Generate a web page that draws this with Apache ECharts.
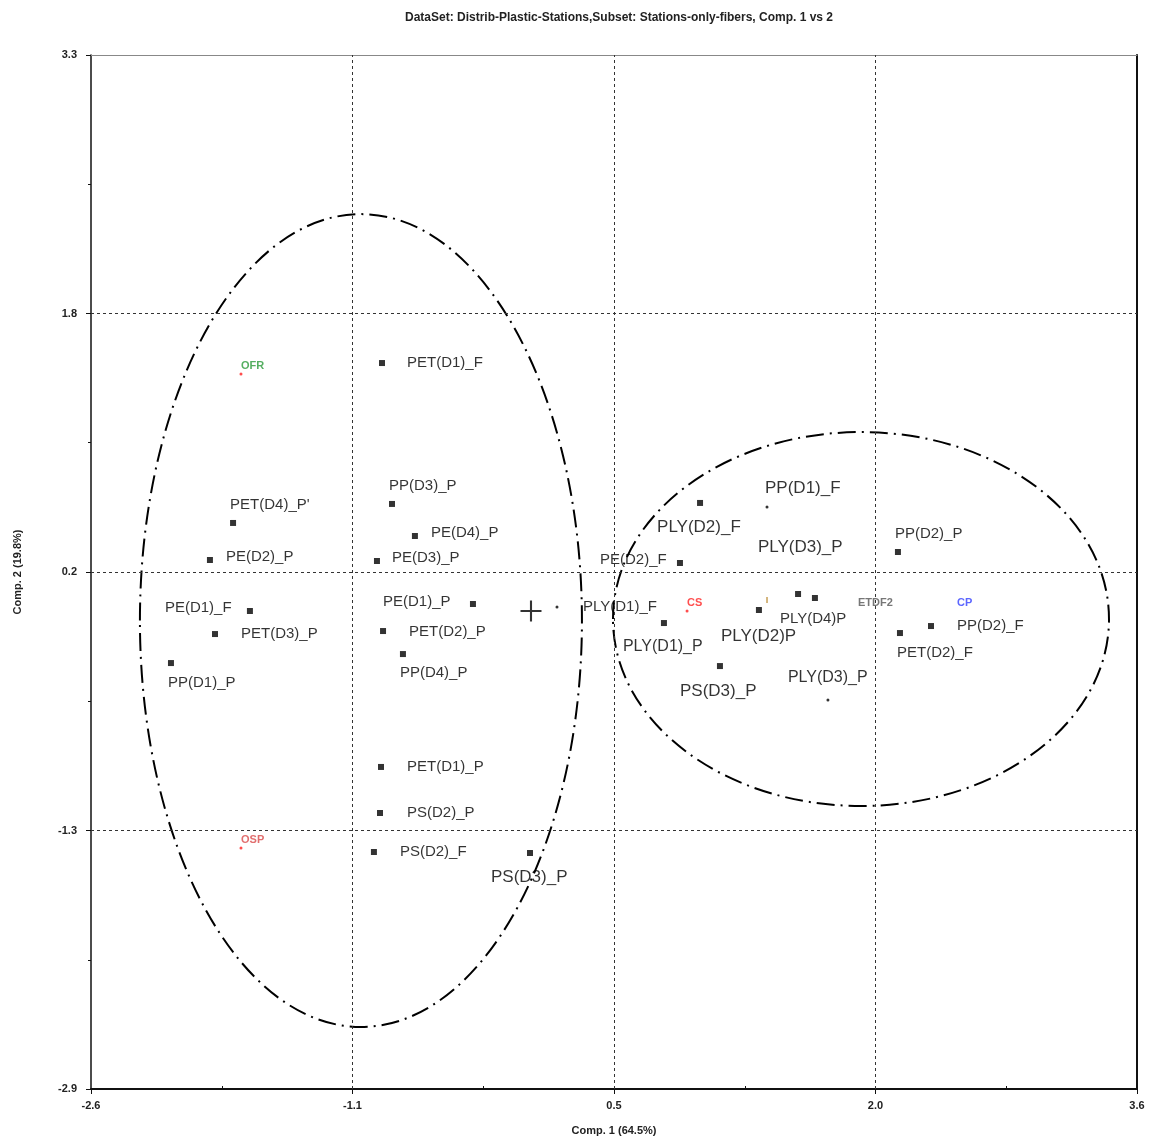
<!DOCTYPE html>
<html>
<head>
<meta charset="utf-8">
<script src="https://cdn.jsdelivr.net/npm/echarts@6/dist/echarts.min.js"></script>
<style>
  html, body { margin: 0; padding: 0; background: #fff; }
  #chart { width: 1149px; height: 1138px; }
</style>
</head>
<body>
<div id="chart"></div>
<script>
// ---- Axis ticks (Comp. 1 / Comp. 2 scores) ----
const xTickValues = [-2.6, -1.05, 0.5, 2.05, 3.6];
const xTickLabels = ['-2.6', '-1.1', '0.5', '2.0', '3.6'];
const xMinorTicks = [-1.825, -0.275, 1.275, 2.825];
const yTickValues = [-2.9, -1.35, 0.2, 1.75, 3.3];
const yTickLabels = ['-2.9', '-1.3', '0.2', '1.8', '3.3'];
const yMinorTicks = [-2.125, -0.575, 0.975, 2.525];

// ---- Fiber variables drawn as squares ----
const squareNames = ['PET(D1)_F', "PET(D4)_P'", 'PE(D2)_P', 'PE(D1)_F', 'PET(D3)_P', 'PP(D1)_P',
  'PP(D3)_P', 'PE(D4)_P', 'PE(D3)_P', 'PE(D1)_P', 'PET(D2)_P', 'PP(D4)_P', 'PET(D1)_P',
  'PS(D2)_P', 'PS(D2)_F', 'PS(D3)_P', 'PLY(D2)_F', 'PE(D2)_F', 'PLY(D2)P', '', 'PLY(D4)P',
  'PLY(D1)_P', 'PS(D3)_P', 'PP(D2)_P', 'PP(D2)_F', 'PET(D2)_F'];
const squareComp1 = [-0.875, -1.758, -1.895, -1.658, -1.865, -2.126, -0.816, -0.680, -0.905,
  -0.336, -0.869, -0.751, -0.881, -0.887, -0.923, 0.002, 1.010, 0.891, 1.359, 1.591, 1.691,
  0.796, 1.128, 2.183, 2.379, 2.195];
const squareComp2 = [1.453, 0.494, 0.272, -0.034, -0.172, -0.346, 0.608, 0.416, 0.266, 0.008,
  -0.154, -0.292, -0.969, -1.245, -1.479, -1.485, 0.614, 0.254, -0.028, 0.068, 0.044, -0.106,
  -0.364, 0.320, -0.124, -0.166];

// ---- Fiber variables drawn as small dots ----
const dotNames = ['PLY(D1)_F', 'PP(D1)_F', 'PLY(D3)_P'];
const dotComp1 = [0.162, 1.407, 1.768];
const dotComp2 = [-0.010, 0.590, -0.568];

// ---- Variable name without a marker ----
const textNames = ['PLY(D3)_P'];
const textComp1 = [1.353];
const textComp2 = [0.350];

// ---- Stations ----
const stationNames = ['OFR', 'OSP', 'CS', 'ETDF2', 'CP'];
const stationComp1 = [-1.711, -1.711, 0.933, 1.946, 2.533];
const stationComp2 = [1.387, -1.455, -0.034, -0.034, -0.034];

// ---- Origin of the map and an unnamed tick mark ----
const centreComp = [0.008, -0.034];
const tickMarkComp = [1.407, 0.032];

// ---- Group ellipses: centre x, centre y, half width, half height ----
const ellipseLeft = [-1.0, -0.091, 1.310, 2.437];
const ellipseRight = [1.964, -0.082, 1.470, 1.121];

// ---- Label placement (px offsets from the marker; font size) ----
const squareLabelLayout = [
  [25, 0, 15], [-3, -18, 15], [16, -3, 15], [-85, -3, 15], [26, 0, 15], [-3, 20, 15],
  [-3, -18, 15], [16, -3, 15], [15, -3, 15], [-90, -2, 15], [26, 1, 15], [-3, 19, 15],
  [26, 0, 15], [27, 0, 15], [26, 0, 15], [-39, 24, 17], [-43, 24, 17], [-80, -3, 15],
  [-38, 26, 17], [0, 0, 15], [-35, 21, 15], [-41, 24, 16], [-40, 25, 17], [-3, -18, 15],
  [26, 0, 15], [-3, 20, 15]
];
const dotLabelLayout = [[26, 0, 15], [-2, -19, 17], [-40, -22, 16]];
const textLabelLayout = [[0, 0, 17]];
const stationStyle = [
  { dot: true, color: '#2a9a3a' },
  { dot: true, color: '#d94a4a' },
  { dot: true, color: '#ff2222' },
  { dot: false, color: '#555555' },
  { dot: false, color: '#3340ff' }
];

const FONT = "'Liberation Sans', Arial, sans-serif";

function pointData(names, xs, ys, layout) {
  return names.map((n, i) => {
    const l = layout[i];
    return {
      name: n,
      value: [xs[i], ys[i]],
      label: {
        show: n !== '',
        formatter: n,
        position: 'inside',
        align: 'left',
        verticalAlign: 'middle',
        offset: [l[0], l[1]],
        fontSize: l[2],
        fontFamily: FONT,
        color: '#000'
      }
    };
  });
}

function tickLabel(values, labels) {
  return function (v) {
    let best = 0;
    values.forEach((t, i) => { if (Math.abs(t - v) < Math.abs(values[best] - v)) best = i; });
    return labels[best];
  };
}

const ellipseRender = function (params, api) {
  const c = api.coord([api.value(0), api.value(1)]);
  const s = api.size([api.value(2), api.value(3)]);
  return {
    type: 'ellipse',
    shape: { cx: c[0], cy: c[1], rx: s[0], ry: s[1] },
    style: { fill: 'none', stroke: '#000', lineWidth: 2, lineDash: [18, 6, 2, 6] }
  };
};

const axisLabelStyle = { fontFamily: FONT, fontSize: 11, fontWeight: 'bold', color: '#222' };

const option = {
  animation: false,
  backgroundColor: '#fff',
  title: {
    text: 'DataSet: Distrib-Plastic-Stations,Subset: Stations-only-fibers, Comp. 1 vs 2',
    left: 614, top: 7, textAlign: 'center',
    textStyle: { fontFamily: FONT, fontSize: 12, fontWeight: 'bold', color: '#222' }
  },
  grid: { left: 91, top: 55, right: 12, bottom: 49, containLabel: false, outerBoundsMode: 'none' },
  xAxis: [
    {
      type: 'value', min: -2.6, max: 3.6, position: 'bottom',
      name: 'Comp. 1 (64.5%)', nameLocation: 'middle', nameGap: 36,
      nameTextStyle: axisLabelStyle,
      axisLine: { onZero: false, lineStyle: { color: '#111', width: 2 } },
      axisTick: { customValues: xTickValues, length: 5, lineStyle: { color: '#111', width: 1 } },
      axisLabel: Object.assign({ customValues: xTickValues, margin: 11, formatter: tickLabel(xTickValues, xTickLabels) }, axisLabelStyle),
      splitLine: { show: false }
    },
    {
      type: 'value', min: -2.6, max: 3.6, position: 'top',
      axisLine: { onZero: false, lineStyle: { color: '#888', width: 1 } },
      axisTick: { show: false }, axisLabel: { show: false }, splitLine: { show: false }
    },
    {
      type: 'value', min: -2.6, max: 3.6, position: 'bottom',
      axisLine: { show: false, onZero: false },
      axisTick: { customValues: xMinorTicks, inside: true, length: 3, lineStyle: { color: '#111' } },
      axisLabel: { show: false }, splitLine: { show: false }
    }
  ],
  yAxis: [
    {
      type: 'value', min: -2.9, max: 3.3, position: 'left',
      name: 'Comp. 2 (19.8%)', nameLocation: 'middle', nameGap: 68, nameRotate: 90,
      nameTextStyle: axisLabelStyle,
      axisLine: { onZero: false, lineStyle: { color: '#111', width: 1.5 } },
      axisTick: { customValues: yTickValues, length: 5, lineStyle: { color: '#111', width: 1 } },
      axisLabel: Object.assign({ customValues: yTickValues, margin: 14, formatter: tickLabel(yTickValues, yTickLabels) }, axisLabelStyle),
      splitLine: { show: false }
    },
    {
      type: 'value', min: -2.9, max: 3.3, position: 'right',
      axisLine: { onZero: false, lineStyle: { color: '#111', width: 2 } },
      axisTick: { show: false }, axisLabel: { show: false }, splitLine: { show: false }
    },
    {
      type: 'value', min: -2.9, max: 3.3, position: 'left',
      axisLine: { show: false, onZero: false },
      axisTick: { customValues: yMinorTicks, length: 3, lineStyle: { color: '#111' } },
      axisLabel: { show: false }, splitLine: { show: false }
    }
  ],
  series: [
    {
      type: 'custom', name: 'group-left', renderItem: ellipseRender,
      data: [ellipseLeft], encode: { x: 0, y: 1 }, silent: true, z: 1
    },
    {
      type: 'custom', name: 'group-right', renderItem: ellipseRender,
      data: [ellipseRight], encode: { x: 0, y: 1 }, silent: true, z: 1
    },
    {
      type: 'scatter', name: 'fibers', symbol: 'rect', symbolSize: 6,
      itemStyle: { color: '#000' }, z: 3,
      data: pointData(squareNames, squareComp1, squareComp2, squareLabelLayout),
      markLine: {
        silent: true, symbol: 'none', label: { show: false },
        lineStyle: { type: [3, 3], color: '#333', width: 1 },
        data: xTickValues.slice(1, -1).map(v => ({ xAxis: v }))
          .concat(yTickValues.slice(1, -1).map(v => ({ yAxis: v })))
      }
    },
    {
      type: 'scatter', name: 'fibers-dots', symbol: 'circle', symbolSize: 3,
      itemStyle: { color: '#000' }, z: 3,
      data: pointData(dotNames, dotComp1, dotComp2, dotLabelLayout)
    },
    {
      type: 'scatter', name: 'fibers-text', symbol: 'circle', symbolSize: 1,
      itemStyle: { color: 'rgba(0,0,0,0)' }, z: 3,
      data: pointData(textNames, textComp1, textComp2, textLabelLayout)
    },
    {
      type: 'scatter', name: 'stations', symbol: 'circle', symbolSize: 3, z: 4,
      data: stationNames.map((n, i) => ({
        name: n,
        value: [stationComp1[i], stationComp2[i]],
        itemStyle: { color: stationStyle[i].dot ? '#ff2020' : 'rgba(0,0,0,0)' },
        label: {
          show: true, formatter: n, position: 'inside', align: 'left', verticalAlign: 'middle',
          offset: [0, -8], fontSize: 11, fontWeight: 'bold', fontFamily: FONT,
          color: stationStyle[i].color
        }
      }))
    },
    {
      type: 'scatter', name: 'centre', z: 3,
      symbol: 'path://M0,9H20V11H0Z M9,0H11V20H9Z', symbolSize: 21,
      itemStyle: { color: '#000' },
      data: [centreComp]
    },
    {
      type: 'scatter', name: 'mark', z: 3,
      symbol: 'rect', symbolSize: [1.5, 6],
      itemStyle: { color: '#b8862b' },
      data: [tickMarkComp]
    }
  ]
};

const chart = echarts.init(document.getElementById('chart'), null, { renderer: 'canvas' });
chart.setOption(option);
</script>
</body>
</html>
